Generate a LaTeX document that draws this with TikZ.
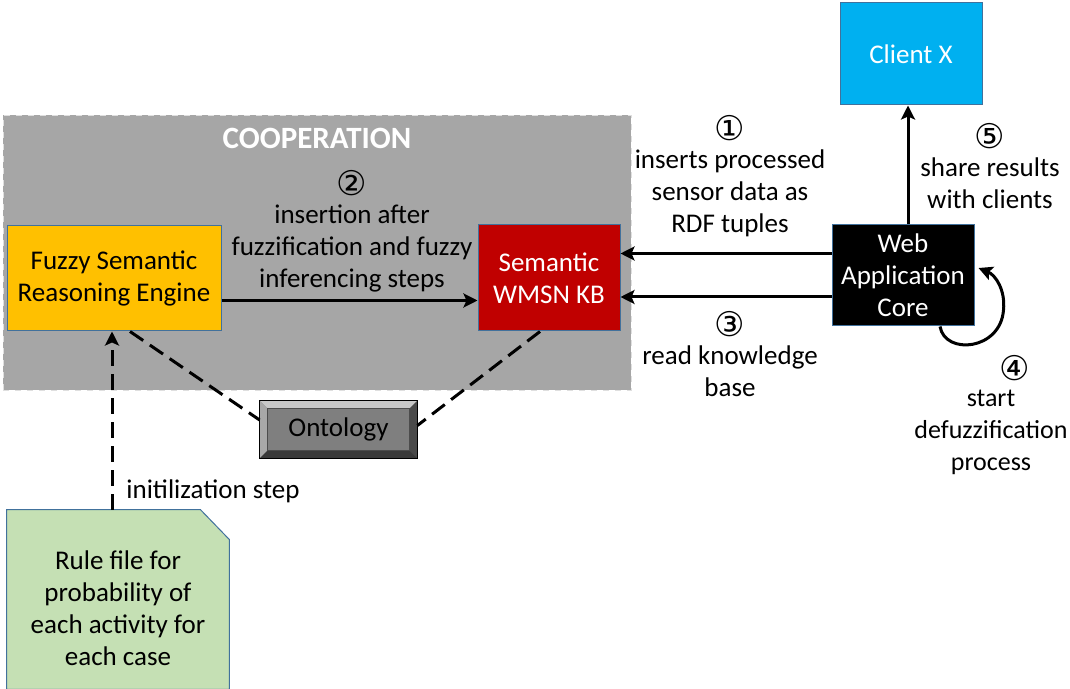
\documentclass[tikz,border=0pt]{standalone}
\usepackage{fontspec}
\setmainfont{Carlito}
\newfontfamily\circfont{DejaVu Sans}
\usetikzlibrary{positioning, arrows.meta, backgrounds}
\definecolor{coopgray}{HTML}{A6A6A6}
\definecolor{fuzzyorange}{HTML}{FFC000}
\definecolor{kbred}{HTML}{C00000}
\definecolor{clientblue}{HTML}{00B0F0}
\definecolor{rulegreen}{HTML}{C5E0B4}
\definecolor{boxedge}{HTML}{41719C}
\definecolor{bevtop}{HTML}{C8C8C8}
\definecolor{bevleft}{HTML}{A8A8A8}
\definecolor{bevright}{HTML}{4A4A4A}
\definecolor{bevbottom}{HTML}{3A3A3A}
\definecolor{bevmid}{HTML}{7F7F7F}
\tikzset{
>={Stealth[length=7pt, width=7pt, inset=1.5pt]}, % bold arrow heads
box/.style={draw=boxedge, line width=0.5pt, align=center, inner sep=2pt,
  font=\fontsize{13.5}{16}\selectfont},
flow/.style={->, line width=1.5pt},
link/.style={line width=1.5pt, dash pattern=on 8pt off 4pt},
lbl/.style={align=center, inner sep=1pt, font=\fontsize{13.5}{16}\selectfont},
num/.style={inner sep=0pt, font=\circfont\fontsize{17}{18}\selectfont},
}

\begin{document}
\begin{tikzpicture}[x=0.5pt, y=-0.5pt]
        \useasboundingbox (0,0) rectangle (1070,689);

        % Cooperation area
        \node[fill=coopgray, draw=gray!25, dashed, minimum width=314pt, minimum height=137.5pt]
            (coop) at (317,252.5) {};
        \node[font=\fontsize{15.5}{16}\selectfont\bfseries, text=white] (cooptitle) at (317,138) {COOPERATION};

        % Boxes
        \node[box, fill=fuzzyorange, minimum width=107pt, minimum height=52.5pt] (fuzzy) at (114,278.5)
            {Fuzzy Semantic\\Reasoning Engine};
        \node[box, fill=kbred, text=white, minimum width=71pt, minimum height=53pt] (kb) at (549,278)
            {Semantic\\WMSN KB};
        \node[box, fill=black, text=white, minimum width=71pt, minimum height=50.5pt] (wac) at (903,275.5)
            {Web\\Application\\Core};
        \node[box, fill=clientblue, text=white, minimum width=71pt, minimum height=51pt] (client) at (911,54)
            {Client X};

        % Ontology (bevelled)
        \node[fill=bevmid, minimum width=78.5pt, minimum height=28.5pt, inner sep=0pt,
            font=\fontsize{13.5}{16}\selectfont] (onto) at (338.5,429.5) {Ontology};
        \fill[bevtop] (onto.north west) -- (onto.north east) -- ([shift={(-4pt,-4pt)}]onto.north east)
            -- ([shift={(4pt,-4pt)}]onto.north west) -- cycle;
        \fill[bevleft] (onto.north west) -- ([shift={(4pt,-4pt)}]onto.north west)
            -- ([shift={(4pt,4pt)}]onto.south west) -- (onto.south west) -- cycle;
        \fill[bevright] (onto.north east) -- ([shift={(-4pt,-4pt)}]onto.north east)
            -- ([shift={(-4pt,4pt)}]onto.south east) -- (onto.south east) -- cycle;
        \fill[bevbottom] (onto.south west) -- ([shift={(4pt,4pt)}]onto.south west)
            -- ([shift={(-4pt,4pt)}]onto.south east) -- (onto.south east) -- cycle;
        \draw[line width=0.4pt] (onto.north west) rectangle (onto.south east);
        \draw[line width=0.3pt, black!70] ([shift={(4pt,-4pt)}]onto.north west) rectangle ([shift={(-4pt,4pt)}]onto.south east);

        % Rule file (folded corner)
        \node[lbl, minimum width=111pt, minimum height=89.5pt] (rule) at (118,608)
            {Rule file for\\probability of\\each activity for\\each case};
        \begin{pgfonlayer}{background}
            \filldraw[fill=rulegreen, draw=boxedge, line width=0.5pt]
                ([yshift=4.25pt]rule.south west) -- ([yshift=4.25pt]rule.north west)
                -- ([shift={(-14.5pt,4.25pt)}]rule.north east) -- ([shift={(0pt,-10.75pt)}]rule.north east)
                -- ([yshift=4.25pt]rule.south east) -- cycle;
        \end{pgfonlayer}

        % Labels
        \node[lbl] (lab1) at (730,193.5) {inserts processed\\sensor data as\\RDF tuples};
        \node[num, above=3pt of lab1] (num1) {①};
        \node[lbl] (lab2) at (352,248) {insertion after\\fuzzification and fuzzy\\inferencing steps};
        \node[num, above=3pt of lab2] (num2) {②};
        \node[lbl] (lab3) at (730,371.5) {read knowledge\\base};
        \node[num, above=3pt of lab3] (num3) {③};
        \node[lbl, font=\fontsize{13}{16}\selectfont] (lab4) at (991,432) {start\\defuzzification\\process};
        \node[num, above=3pt of lab4, xshift=12pt] (num4) {④};
        \node[lbl] (lab5) at (990,183) {share results\\with clients};
        \node[num, above=3pt of lab5] (num5) {⑤};
        \node[lbl] (labinit) at (213,491) {initilization step};

        % Connectors
        \draw[flow] ([yshift=-11pt]fuzzy.east) -- ([yshift=-11pt]fuzzy.east -| kb.west);
        \draw[flow] ([yshift=11pt]wac.west) -- ([yshift=11pt]wac.west -| kb.east);
        \draw[flow] ([yshift=-10.75pt]wac.west) -- ([yshift=-10.75pt]wac.west -| kb.east);
        \draw[flow] ([xshift=2.5pt]wac.north) -- ([xshift=2.5pt]wac.north |- client.south);
        \draw[flow] ([xshift=18.5pt]wac.south) .. controls ([shift={(21pt,-14.5pt)}]wac.south)
            and ([shift={(13pt,-12pt)}]wac.south east) .. ([shift={(14.5pt,-17.25pt)}]wac.east)
            .. controls ([shift={(15.5pt,-7.25pt)}]wac.east) and ([shift={(10.5pt,0.25pt)}]wac.east)
            .. ([shift={(2pt,3.75pt)}]wac.east);

        \draw[link] ([xshift=8pt]fuzzy.south) -- ([yshift=4.75pt]onto.west);
        \draw[link] ([xshift=-4.5pt]kb.south) -- ([yshift=2pt]onto.east);
        \draw[link, ->] ([shift={(-3pt,4.25pt)}]rule.north) -- ([xshift=-3pt]rule.north |- fuzzy.south);
    \end{tikzpicture}
\end{document}
